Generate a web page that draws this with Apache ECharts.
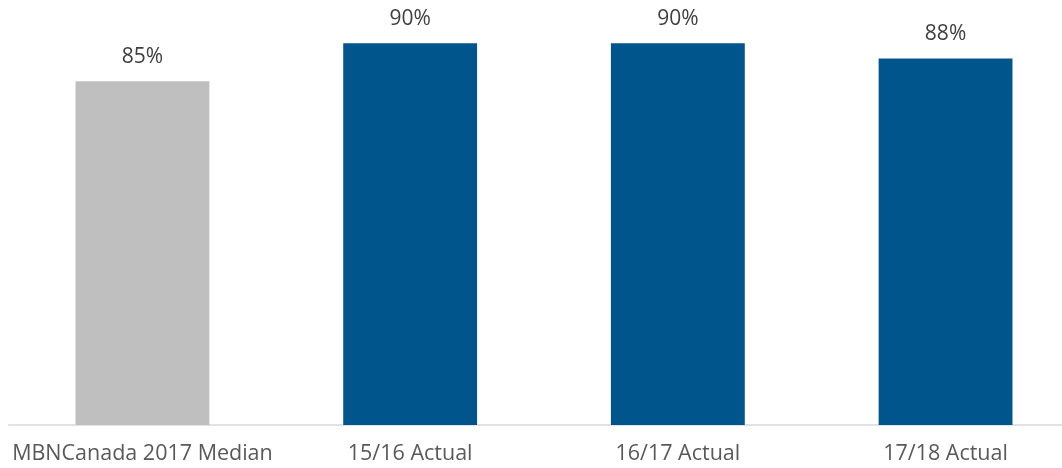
<!DOCTYPE html>
<html><head><meta charset="utf-8">
<script src="https://cdn.jsdelivr.net/npm/echarts@6/dist/echarts.min.js"></script>
<style>html,body{margin:0;padding:0;background:#fff;overflow:hidden;}#c{width:1080px;height:468px;}</style>
</head><body><div id="c"></div>
<script>
const categories = ["MBNCanada 2017 Median", "15/16 Actual", "16/17 Actual", "17/18 Actual"];
const values = [85, 90, 90, 88];
const barColors = ["#BFBFBF", "#00558C", "#00558C", "#00558C"];

const chart = echarts.init(document.getElementById('c'));
chart.setOption({
  animation: false,
  grid: {left: 8.6, right: 0.6, top: 5, bottom: 43, containLabel: false},
  xAxis: {
    type: 'category', data: categories,
    axisLine: {lineStyle: {color: '#D9D9D9', width: 1.5}},
    axisTick: {show: false},
    axisLabel: {color: '#595959', fontSize: 21.5, fontFamily: 'Open Sans', margin: 18, interval: 0}
  },
  yAxis: {type: 'value', min: 40, max: 95, show: false, splitLine: {show: false}},
  series: [{
    type: 'bar', barWidth: '50%',
    data: values.map((v, i) => ({value: v, itemStyle: {color: barColors[i]}})),
    label: {show: true, position: 'top', distance: 14, color: '#404040', fontSize: 21, fontFamily: 'Open Sans', formatter: p => p.value + '%'}
  }]
});
</script></body></html>
